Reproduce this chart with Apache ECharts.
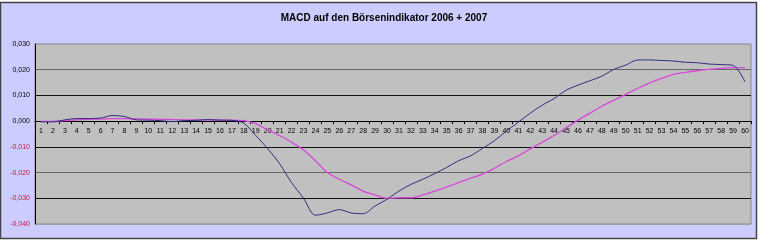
<!DOCTYPE html>
<html><head><meta charset="utf-8">
<script src="https://cdn.jsdelivr.net/npm/echarts@6/dist/echarts.min.js"></script>
<style>html,body{margin:0;padding:0;background:#fff}#c{width:770px;height:250px}</style>
</head><body><div id="c"></div>
<script>
const categories = Array.from({length:60},(_,i)=>String(i+1));
const macd = [-0.0003,-0.0003,0.0005,0.0010,0.0010,0.0012,0.0022,0.0018,0.0005,0.0004,
 0.0002,-0.0002,0.0002,0.0003,0.0006,0.0004,0.0003,-0.0008,-0.0056,-0.0107,
 -0.0166,-0.0239,-0.0300,-0.0366,-0.0357,-0.0344,-0.0357,-0.0360,-0.0330,-0.0304,
 -0.0272,-0.0246,-0.0226,-0.0204,-0.0180,-0.0154,-0.0135,-0.0106,-0.0076,-0.0039,
 -0.0004,0.0031,0.0062,0.0088,0.0120,0.0140,0.0157,0.0175,0.0201,0.0218,
 0.0238,0.0238,0.0236,0.0234,0.0229,0.0227,0.0222,0.0220,0.0217,0.0153];
const signal = [-0.0001,-0.0001,0.0002,0.0005,0.0007,0.0008,0.0010,0.0010,0.0009,0.0008,
 0.0007,0.0006,0.0005,0.0005,0.0005,0.0004,0.0004,0.0002,-0.0010,-0.0034,
 -0.0056,-0.0082,-0.0112,-0.0154,-0.0200,-0.0226,-0.0248,-0.0272,-0.0287,-0.0300,
 -0.0298,-0.0298,-0.0287,-0.0272,-0.0256,-0.0239,-0.0222,-0.0206,-0.0183,-0.0157,
 -0.0135,-0.0108,-0.0082,-0.0056,-0.0026,0.0004,0.0031,0.0058,0.0081,0.0104,
 0.0127,0.0149,0.0166,0.0182,0.0190,0.0196,0.0201,0.0205,0.0208,0.0208];
const yTicks = [-0.04,-0.03,-0.02,-0.01,0,0.01,0.02,0.03];
const title = 'MACD auf den Börsenindikator 2006 + 2007';

const gridTop = 44, gridH = 180;
const yMin = yTicks[0], yMax = yTicks[yTicks.length-1];
const zeroOffset = -gridH * (0 - yMin) / (yMax - yMin);

const chart = echarts.init(document.getElementById('c'), null, {renderer:'canvas'});
chart.setOption({
  animation:false,
  backgroundColor:'#ffffff',
  graphic:[{type:'rect',z:-10,shape:{x:0.5,y:2.5,width:756,height:236},style:{fill:'#ccccff',stroke:'#444',lineWidth:1.5}}],
  title:{text:title,left:379,top:8,textAlign:'center',textStyle:{fontFamily:'Liberation Sans, Arial',fontSize:10,fontWeight:'bold',color:'#000'}},
  grid:{left:35,top:gridTop,width:716,height:gridH,show:true,backgroundColor:'#c0c0c0',borderColor:'#8a8a8a',borderWidth:1},
  xAxis:{type:'category',data:categories,boundaryGap:true,position:'bottom',offset:zeroOffset,
    axisLine:{onZero:false,lineStyle:{color:'#000',width:1}},
    axisTick:{show:true,length:3,lineStyle:{color:'#000'}},
    axisLabel:{interval:0,fontSize:7,color:'#000',fontFamily:'Liberation Sans, Arial',margin:6},
    splitLine:{show:false}},
  yAxis:{type:'value',min:yMin,max:yMax,interval:0.01,
    axisLine:{show:true,onZero:false,lineStyle:{color:'#000'}},
    axisTick:{show:false},
    axisLabel:{fontSize:7,margin:5,fontFamily:'Liberation Sans, Arial',
      formatter:v=>(v<0?'-':'')+Math.abs(v).toFixed(3).replace('.',','),
      color:v=>(v<-1e-9?'#d0103a':'#000')},
    splitLine:{show:true,lineStyle:{color:['#a0a0a0','#111','#666','#111','#111','#111','#666','#a0a0a0'],width:1}}},
  series:[
    {type:'line',data:macd,symbol:'none',smooth:0.3,lineStyle:{color:'#2e2e80',width:1},z:3},
    {type:'line',data:signal,symbol:'none',smooth:0.3,lineStyle:{color:'#d848d8',width:1.3},z:2}
  ]
});
</script></body></html>
